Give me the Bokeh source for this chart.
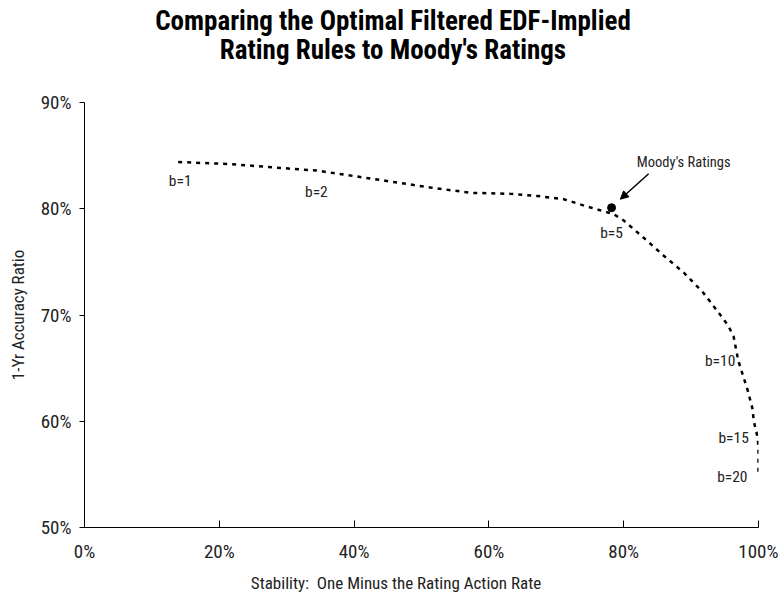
from bokeh.plotting import figure
from bokeh.models import Range1d, FixedTicker, CustomJSTickFormatter, Arrow, NormalHead, Label, ColumnDataSource, Div
from bokeh.layouts import column
from bokeh.core.properties import value
from bokeh.embed import file_html
from bokeh.resources import INLINE

NARROW = "'Liberation Sans Narrow', 'Arial Narrow', 'Roboto Condensed', sans-serif"

# Curve: stability (%) vs 1-yr accuracy ratio (%)
stability = [13.9, 21.7, 32.0, 34.4, 42.9, 51.3, 57.3, 63.2, 67.2, 71.1, 74.6, 78.5,
             80.0, 82.9, 85.9, 88.9, 91.8, 94.1, 95.5, 96.3, 97.0, 97.8, 98.4, 99.1,
             99.3, 99.9, 100.0, 100.0, 100.0]
accuracy = [84.4, 84.2, 83.7, 83.6, 82.8, 82.0, 81.5, 81.4, 81.2, 80.9, 80.2, 79.5,
            78.9, 77.3, 75.6, 74.0, 72.1, 70.2, 69.0, 68.0, 65.7, 64.1, 62.9, 61.2,
            60.0, 58.4, 57.2, 56.0, 54.8]

# Labelled b values
b_labels = ["b=1", "b=2", "b=5", "b=10", "b=15", "b=20"]
b_stability = [13.9, 34.4, 78.5, 97.0, 99.9, 100.0]
b_accuracy = [84.4, 83.6, 79.5, 65.7, 58.4, 54.8]

# Moody's ratings point
moodys_stability = [78.2]
moodys_accuracy = [80.1]

x_ticks = [0, 20, 40, 60, 80, 100]
y_ticks = [50, 60, 70, 80, 90]

title_lines = ["Comparing the Optimal Filtered EDF-Implied", "Rating Rules to Moody's Ratings"]
x_label = "Stability:&nbsp; One Minus the Rating Action Rate"
y_label = "1-Yr Accuracy Ratio"

FONT_CSS = "font-family: 'Liberation Sans Narrow', 'Arial Narrow', 'Roboto Condensed', sans-serif;"

title_div = Div(
    text=('<div style="box-sizing:border-box;width:778px;padding-left:8px;padding-top:7px;'
          'text-align:center;font-size:27px;line-height:29px;font-weight:bold;color:#000;'
          + FONT_CSS + '">' + "<br>".join(title_lines) + '</div>'),
    width=778, height=80, margin=0)

p = figure(width=778, height=492, output_backend="svg", toolbar_location=None,
           x_range=Range1d(0, 100), y_range=Range1d(50, 90), margin=0,
           min_border_left=84, min_border_right=20, min_border_top=22, min_border_bottom=45)

p.title = None
p.outline_line_color = None
p.xgrid.grid_line_color = None
p.ygrid.grid_line_color = None

fmt = CustomJSTickFormatter(code="return tick.toFixed(0) + '%';")
for ax in (p.xaxis[0], p.yaxis[0]):
    ax.formatter = fmt
    ax.major_label_text_font = NARROW
    ax.major_label_text_font_size = "19px"
    ax.major_label_text_color = "#222222"
    ax.axis_label_text_font = NARROW
    ax.axis_label_text_font_size = "17px"
    ax.axis_label_text_font_style = "normal"
    ax.axis_label_text_color = "#222222"
    ax.axis_line_color = "#000000"
    ax.major_tick_line_color = "#000000"
    ax.minor_tick_line_color = None

p.xaxis.ticker = FixedTicker(ticks=x_ticks)
p.yaxis.ticker = FixedTicker(ticks=y_ticks)
p.xaxis.major_tick_in = 7
p.xaxis.major_tick_out = 0
p.xaxis.major_label_standoff = 12
p.yaxis.major_tick_in = 0
p.yaxis.major_tick_out = 5
p.yaxis.major_label_standoff = 8
p.yaxis.axis_label = y_label
p.yaxis.axis_label_standoff = 10

p.line(stability, accuracy, line_color="#000000", line_width=2.5, line_dash="4 5")

p.scatter(moodys_stability, moodys_accuracy, size=8, color="#000000")

src = ColumnDataSource(dict(x=b_stability, y=b_accuracy, t=b_labels,
                            dx=[2, 0, -2, -3, -9, -11],
                            dy=[19, 21, 19, 0, 0, 0],
                            al=["center", "center", "center", "right", "right", "right"]))
p.text(x="x", y="y", text="t", source=src, x_offset="dx", y_offset="dy",
       text_align="al", text_baseline="middle", text_font=value(NARROW),
       text_font_size="15.5px", text_color="#222222")

p.add_layout(Arrow(end=NormalHead(size=8, fill_color="#000000", line_color="#000000"),
                   x_start=83.7, y_start=83.3, x_end=79.5, y_end=80.9,
                   line_color="#000000", line_width=1.5))
p.add_layout(Label(x=88.9, y=84.4, text="Moody's Ratings", text_align="center",
                   text_baseline="middle", text_font=NARROW, text_font_size="14.5px",
                   text_color="#222222"))

xlabel_div = Div(
    text=('<div style="box-sizing:border-box;width:778px;padding-left:14px;padding-top:1px;'
          'text-align:center;font-size:17px;line-height:20px;color:#222;'
          + FONT_CSS + '">' + x_label + '</div>'),
    width=778, height=28, margin=0)

layout = column(title_div, p, xlabel_div, spacing=0)

open("out.html", "w").write(file_html(layout, INLINE))
